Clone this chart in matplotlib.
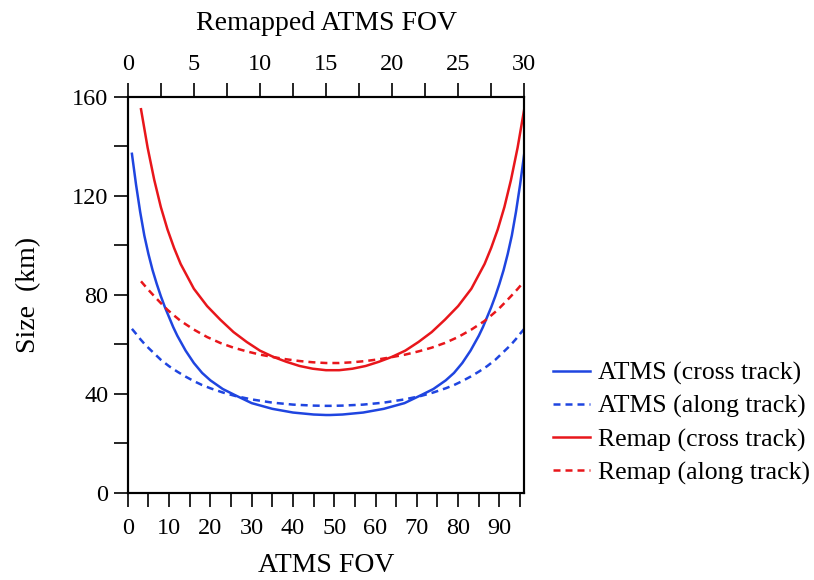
import matplotlib
matplotlib.use('Agg')
import matplotlib.pyplot as plt
import numpy as np
from matplotlib.ticker import MultipleLocator

plt.rcParams['font.family'] = ['Liberation Serif', 'DejaVu Serif']

# ATMS footprints (km)
atms_fov = [1, 2, 3, 4, 5, 6, 7, 8, 9, 10, 11, 12, 14, 16, 18, 20, 23, 26, 30, 35, 40, 45, 48,
            49, 52, 57, 62, 67, 71, 74, 77, 79, 81, 83, 85, 86, 87, 88, 89, 90, 91, 92, 93, 94, 95, 96]
atms_cross = [137, 124.5, 113.5, 104, 96.5, 90, 84.5, 79.5, 75, 71, 67, 63.5, 57.5, 52.5, 48.5,
              45.5, 42, 39.5, 36.3, 34, 32.5, 31.7, 31.5,
              31.5, 31.7, 32.5, 34, 36.3, 39.5, 42, 45.5, 48.5, 52.5, 57.5, 63.5, 67, 71, 75,
              79.5, 84.5, 90, 96.5, 104, 113.5, 124.5, 137]
atms_along = [66.3, 64.3, 62.2, 60.3, 58.6, 57, 55.4, 53.8, 52.5, 51.2, 50.1, 49, 47, 45.2, 43.6,
              42.3, 40.6, 39.2, 37.8, 36.5, 35.7, 35.3, 35.2,
              35.2, 35.3, 35.7, 36.5, 37.8, 39.2, 40.6, 42.3, 43.6, 45.2, 47, 49, 50.1, 51.2, 52.5,
              53.8, 55.4, 57, 58.6, 60.3, 62.2, 64.3, 66.3]

# remapped footprints, positions on the remapped FOV axis
remap_pos = [1, 1.5, 2, 2.5, 3, 3.5, 4, 5, 6, 7, 8, 9, 10, 11, 12, 13, 14, 15,
             16, 17, 18, 19, 20, 21, 22, 23, 24, 25, 26, 27, 27.5, 28, 28.5, 29, 29.5, 30]
remap_cross = [155, 139.5, 126.5, 115.5, 106.5, 99, 92.5, 82.5, 75.5, 70, 65, 61, 57.5, 55, 53,
               51.3, 50.2, 49.6,
               49.6, 50.2, 51.3, 53, 55, 57.5, 61, 65, 70, 75.5, 82.5, 92.5, 99, 106.5, 115.5,
               126.5, 139.5, 155]
remap_along = [85.5, 82.4, 79.5, 76.7, 74, 71.7, 69.5, 66, 63, 60.6, 58.7, 57.2, 55.9, 54.9,
               54, 53.3, 52.8, 52.5,
               52.5, 52.8, 53.3, 54, 54.9, 55.9, 57.2, 58.7, 60.6, 63, 66, 69.5, 71.7, 74, 76.7,
               79.5, 82.4, 85.5]

blue = '#1f45e0'
red = '#e8161b'
dash = (0, (2.8, 2.0))

fig = plt.figure(figsize=(8.14, 5.8), dpi=100)
ax = fig.add_axes([0.157, 0.150, 0.487, 0.683])
ax2 = ax.twiny()

l1, = ax.plot(atms_fov, atms_cross, color=blue, lw=1.8, label='ATMS (cross track)')
l2, = ax.plot(atms_fov, atms_along, color=blue, lw=1.8, ls=dash, label='ATMS (along track)')
l3, = ax2.plot(remap_pos, remap_cross, color=red, lw=1.8, label='Remap (cross track)')
l4, = ax2.plot(remap_pos, remap_along, color=red, lw=1.8, ls=dash, label='Remap (along track)')

ax.set_xlim(0, 96)
ax.set_ylim(0, 160)
ax2.set_xlim(0, 30)

ax.xaxis.set_major_locator(MultipleLocator(10))
ax.xaxis.set_minor_locator(MultipleLocator(5))
ax.yaxis.set_major_locator(MultipleLocator(40))
ax.yaxis.set_minor_locator(MultipleLocator(20))
ax2.xaxis.set_major_locator(MultipleLocator(5))
ax2.xaxis.set_minor_locator(MultipleLocator(2.5))

for a in (ax, ax2):
    a.tick_params(which='both', direction='out', length=10, width=1.2, labelsize=17.5)
    for s in a.spines.values():
        s.set_linewidth(1.5)
ax.tick_params(right=False, which='both')
ax.tick_params(axis='x', pad=8)
ax.tick_params(axis='y', pad=4)
ax2.tick_params(axis='x', pad=6)

ax.set_xlabel('ATMS FOV', fontsize=20, labelpad=10)
ax.set_ylabel('Size  (km)', fontsize=20, labelpad=22)
ax2.set_xlabel('Remapped ATMS FOV', fontsize=20, labelpad=17)

fig.legend(handles=[l1, l2, l3, l4], loc='upper left', bbox_to_anchor=(0.673, 0.385),
           frameon=False, fontsize=18.5, handlelength=1.45, handletextpad=0.3,
           labelspacing=0.38, borderpad=0.2, borderaxespad=0)

fig.savefig('out.png', dpi=100)
